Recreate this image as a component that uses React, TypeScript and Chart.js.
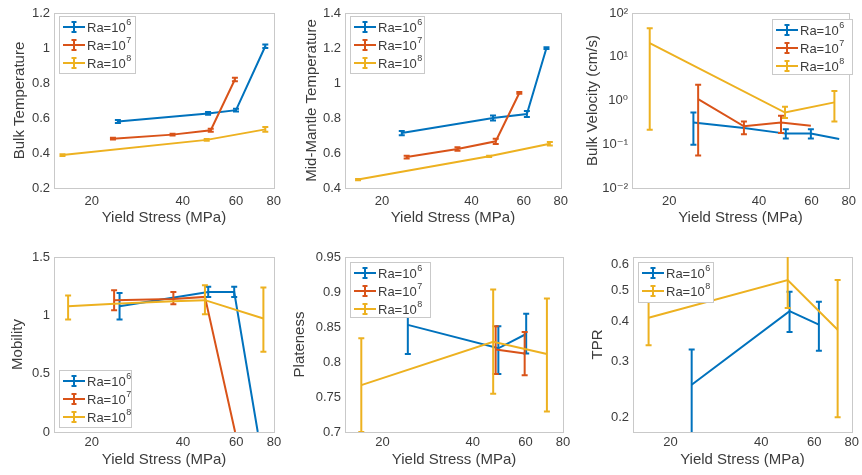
import React, { useEffect, useRef } from "react";
import { Chart, registerables } from "chart.js";
Chart.register(...registerables);

type Pt = [number, number, number | null, number | null]; // x, y, low, high

// ---------- shared axis data ----------
const xTicks = [20, 40, 60, 80];
const xLabel = "Yield Stress (MPa)";
const legendBase = "Ra=10";

// ---------- Bulk Temperature ----------
const bulkTempTicks = [0.2, 0.4, 0.6, 0.8, 1, 1.2];
const bulkTempRa6: Pt[] = [[24.4, 0.58, 0.572, 0.588], [48.5, 0.626, 0.618, 0.634], [60, 0.645, 0.637, 0.653], [75, 1.01, 1.0, 1.02]];
const bulkTempRa7: Pt[] = [[23.5, 0.482, 0.477, 0.487], [37, 0.505, 0.5, 0.51], [49.5, 0.53, 0.522, 0.538], [59.5, 0.82, 0.81, 0.83]];
const bulkTempRa8: Pt[] = [[16, 0.388, 0.383, 0.393], [48, 0.475, 0.47, 0.48], [75, 0.535, 0.522, 0.548]];

// ---------- Mid-Mantle Temperature ----------
const midTempTicks = [0.4, 0.6, 0.8, 1, 1.2, 1.4];
const midTempRa6: Pt[] = [[23.3, 0.714, 0.702, 0.726], [47.3, 0.8, 0.786, 0.814], [61.5, 0.823, 0.806, 0.84], [71.6, 1.2, 1.195, 1.205]];
const midTempRa7: Pt[] = [[24.2, 0.577, 0.569, 0.585], [35.9, 0.623, 0.613, 0.633], [48.3, 0.667, 0.652, 0.682], [58, 0.943, 0.938, 0.948]];
const midTempRa8: Pt[] = [[16.6, 0.448, 0.444, 0.452], [45.9, 0.581, 0.577, 0.585], [73.5, 0.653, 0.643, 0.663]];

// ---------- Bulk Velocity ----------
const velTicks = [0.01, 0.1, 1, 10, 100];
const velTickLabels = ["10\u207B\u00B2", "10\u207B\u00B9", "10\u2070", "10\u00B9", "10\u00B2"];
const velRa6: Pt[] = [[24.1, 0.316, 0.098, 0.53], [35.6, 0.235, null, null], [49.2, 0.175, 0.135, 0.22], [59.7, 0.175, 0.135, 0.22], [74.3, 0.132, null, null]];
const velRa7: Pt[] = [[25, 1.08, 0.055, 2.3], [35.6, 0.257, 0.17, 0.33], [47.4, 0.316, 0.18, 0.45], [59.7, 0.265, null, null]];
const velRa8: Pt[] = [[17.2, 20.6, 0.215, 45], [48.9, 0.53, 0.4, 0.72], [71.6, 0.906, 0.333, 1.65]];

// ---------- Mobility ----------
const mobTicks = [0, 0.5, 1, 1.5];
const mobRa6: Pt[] = [[24.7, 1.078, 0.965, 1.192], [48.5, 1.2, 1.158, 1.244], [59.1, 1.2, 1.158, 1.244], [70.7, 0, null, null]];
const mobRa7: Pt[] = [[23.7, 1.13, 1.044, 1.215], [37.2, 1.14, 1.096, 1.2], [47.3, 1.158, null, null], [59.5, 0, null, null]];
const mobRa8: Pt[] = [[16.7, 1.078, 0.965, 1.17], [23.8, 1.1, null, null], [37.2, 1.12, null, null], [47.3, 1.13, 1.01, 1.258], [73.8, 0.973, 0.688, 1.238]];

// ---------- Plateness ----------
const plateTicks = [0.7, 0.75, 0.8, 0.85, 0.9, 0.95];
const plateRa6: Pt[] = [[24.3, 0.853, 0.8115, 0.895], [48.7, 0.8196, 0.783, 0.851], [60.3, 0.84, 0.812, 0.869]];
const plateRa7: Pt[] = [[47.7, 0.818, 0.783, 0.851], [59.6, 0.812, 0.781, 0.843]];
const plateRa8: Pt[] = [[17, 0.767, 0.7, 0.834], [46.8, 0.829, 0.7545, 0.9036], [70.7, 0.8115, 0.7293, 0.8908]];

// ---------- TPR ----------
const tprTicks = [0.2, 0.3, 0.4, 0.5, 0.6];
const tprRa6: Pt[] = [[23.5, 0.253, 0.178, 0.326], [49.7, 0.43, 0.37, 0.494], [62.2, 0.39, 0.323, 0.46]];
const tprRa8: Pt[] = [[16.9, 0.41, 0.336, 0.49], [49, 0.538, 0.44, 0.65], [71.8, 0.376, 0.2, 0.538]];

// ---------- styles ----------
const BLUE = "#0072BD";
const ORANGE = "#D95319";
const YELLOW = "#EDB120";
const TXT = "#3c3c3c";
const FRAME = "#c9c9c9";
const FONT = "'Liberation Sans', Arial, 'DejaVu Sans', sans-serif";
const TICK_SIZE = 13;
const TITLE_SIZE = 15;

type Series = { pts: Pt[]; color: string; order: number; exp: string };
type Spec = {
  canvas: [number, number, number, number];
  box: [number, number, number, number];
  tcx: number;
  xTickPad: number;
  xH: number;
  yTitle: string;
  yType: "linear" | "logarithmic";
  yMin: number;
  yMax: number;
  yTicks: number[];
  yLabels?: string[];
  series: Series[];
  legend: [number, number, number, number];
};

const ra6 = (pts: Pt[]): Series => ({ pts, color: BLUE, order: 3, exp: "6" });
const ra7 = (pts: Pt[]): Series => ({ pts, color: ORANGE, order: 2, exp: "7" });
const ra8 = (pts: Pt[]): Series => ({ pts, color: YELLOW, order: 1, exp: "8" });

const specs: Spec[] = [
  {
    canvas: [0, 0, 287, 237], box: [54, 13, 274, 188], tcx: 20, xTickPad: 6, xH: 39,
    yTitle: "Bulk Temperature", yType: "linear", yMin: 0.2, yMax: 1.2, yTicks: bulkTempTicks,
    series: [ra6(bulkTempRa6), ra7(bulkTempRa7), ra8(bulkTempRa8)], legend: [59, 16, 76, 57],
  },
  {
    canvas: [287, 0, 287, 237], box: [345, 13, 561, 188], tcx: 312, xTickPad: 6, xH: 39,
    yTitle: "Mid-Mantle Temperature", yType: "linear", yMin: 0.4, yMax: 1.4, yTicks: midTempTicks,
    series: [ra6(midTempRa6), ra7(midTempRa7), ra8(midTempRa8)], legend: [350, 16, 74, 57],
  },
  {
    canvas: [574, 0, 288, 237], box: [632, 13, 853, 188], tcx: 593, xTickPad: 6, xH: 39,
    yTitle: "Bulk Velocity (cm/s)", yType: "logarithmic", yMin: 0.01, yMax: 100, yTicks: velTicks, yLabels: velTickLabels,
    series: [ra6(velRa6), ra7(velRa7), ra8(velRa8)], legend: [772, 19, 80, 55],
  },
  {
    canvas: [0, 237, 287, 238], box: [54, 257, 274, 432], tcx: 18, xTickPad: 3, xH: 37,
    yTitle: "Mobility", yType: "linear", yMin: 0, yMax: 1.5, yTicks: mobTicks,
    series: [ra6(mobRa6), ra7(mobRa7), ra8(mobRa8)], legend: [59, 370, 72, 57],
  },
  {
    canvas: [287, 237, 287, 238], box: [345, 257, 563, 432], tcx: 300, xTickPad: 3, xH: 37,
    yTitle: "Plateness", yType: "linear", yMin: 0.7, yMax: 0.95, yTicks: plateTicks,
    series: [ra6(plateRa6), ra7(plateRa7), ra8(plateRa8)], legend: [350, 262, 80, 55],
  },
  {
    canvas: [574, 237, 288, 238], box: [633, 257, 853, 432], tcx: 598, xTickPad: 3, xH: 37,
    yTitle: "TPR", yType: "logarithmic", yMin: 0.18, yMax: 0.635, yTicks: tprTicks,
    series: [ra6(tprRa6), ra8(tprRa8)], legend: [638, 262, 75, 40],
  },
];

const fmt = (v: number) => String(+Number(v).toFixed(3));

const framePlugin = {
  id: "frame",
  beforeDatasetsDraw(chart: any) {
    const { ctx, chartArea: a } = chart;
    ctx.save();
    ctx.strokeStyle = FRAME;
    ctx.lineWidth = 1;
    ctx.strokeRect(Math.round(a.left) + 0.5, Math.round(a.top) + 0.5, Math.round(a.right - a.left), Math.round(a.bottom - a.top));
    ctx.restore();
  },
};

const errorBarPlugin = {
  id: "errbars",
  afterDatasetDraw(chart: any, args: any) {
    const ds = chart.data.datasets[args.index];
    const xs = chart.scales.x;
    const ys = chart.scales.y;
    const a = chart.chartArea;
    const ctx = chart.ctx;
    ctx.save();
    ctx.beginPath();
    ctx.rect(a.left, a.top, a.right - a.left, a.bottom - a.top);
    ctx.clip();
    ctx.strokeStyle = ds.borderColor;
    ctx.lineWidth = 2;
    ds.data.forEach((d: any) => {
      if (d.lo == null || d.hi == null) return;
      const px = xs.getPixelForValue(d.x);
      const p1 = ys.getPixelForValue(d.lo);
      const p2 = ys.getPixelForValue(d.hi);
      ctx.beginPath();
      ctx.moveTo(px, p1);
      ctx.lineTo(px, p2);
      ctx.moveTo(px - 3, p1);
      ctx.lineTo(px + 3, p1);
      ctx.moveTo(px - 3, p2);
      ctx.lineTo(px + 3, p2);
      ctx.stroke();
    });
    ctx.restore();
  },
};

function legendPlugin(p: Spec) {
  return {
    id: "inlegend",
    afterDraw(chart: any) {
      const ctx = chart.ctx;
      const [lx, ly, lw, lh] = p.legend;
      const x0 = lx - p.canvas[0];
      const y0 = ly - p.canvas[1];
      ctx.save();
      ctx.fillStyle = "#ffffff";
      ctx.fillRect(x0, y0, lw, lh);
      ctx.strokeStyle = FRAME;
      ctx.lineWidth = 1;
      ctx.strokeRect(x0 + 0.5, y0 + 0.5, lw, lh);
      p.series.forEach((s, i) => {
        const yy = y0 + 11 + i * 18;
        ctx.strokeStyle = s.color;
        ctx.lineWidth = 2;
        ctx.beginPath();
        ctx.moveTo(x0 + 4, yy);
        ctx.lineTo(x0 + 26, yy);
        ctx.moveTo(x0 + 15, yy - 5);
        ctx.lineTo(x0 + 15, yy + 5);
        ctx.moveTo(x0 + 12.5, yy - 5);
        ctx.lineTo(x0 + 17.5, yy - 5);
        ctx.moveTo(x0 + 12.5, yy + 5);
        ctx.lineTo(x0 + 17.5, yy + 5);
        ctx.stroke();
        ctx.fillStyle = TXT;
        ctx.textAlign = "left";
        ctx.textBaseline = "middle";
        ctx.font = `13px ${FONT}`;
        ctx.fillText(legendBase, x0 + 28, yy + 1);
        const w = ctx.measureText(legendBase).width;
        ctx.font = `9px ${FONT}`;
        ctx.fillText(s.exp, x0 + 28 + w + 0.5, yy - 4);
      });
      ctx.restore();
    },
  };
}

function buildConfig(p: Spec): any {
  const [cx, cy, cw, ch] = p.canvas;
  const [L, T, R, B] = p.box;
  const half = (TITLE_SIZE * 1.2) / 2;
  const scaleLeft = p.tcx - half - cx;
  const yW = L - cx - scaleLeft;
  const padding = { left: scaleLeft, top: T - cy, right: cx + cw - R, bottom: cy + ch - B - p.xH };

  const datasets = p.series.map((s) => ({
    label: legendBase + s.exp,
    data: s.pts.map((q) => ({ x: q[0], y: q[1], lo: q[2], hi: q[3] })),
    borderColor: s.color,
    backgroundColor: s.color,
    borderWidth: 2,
    pointRadius: 0,
    pointHoverRadius: 0,
    tension: 0,
    fill: false,
    order: s.order,
  }));

  return {
    type: "line",
    data: { datasets },
    options: {
      responsive: false,
      animation: false,
      events: [],
      parsing: true,
      layout: { padding, autoPadding: false },
      plugins: { legend: { display: false }, tooltip: { enabled: false } },
      scales: {
        x: {
          type: "logarithmic",
          min: 15,
          max: 80,
          afterBuildTicks: (s: any) => {
            s.ticks = xTicks.map((v) => ({ value: v }));
          },
          afterFit: (s: any) => {
            s.height = p.xH;
          },
          ticks: {
            autoSkip: false,
            maxRotation: 0,
            padding: p.xTickPad,
            color: TXT,
            font: { family: FONT, size: TICK_SIZE },
            callback: (v: any) => String(v),
          },
          grid: { display: false, drawTicks: false },
          border: { display: false },
          title: { display: true, text: xLabel, color: TXT, font: { family: FONT, size: TITLE_SIZE }, padding: 0 },
        },
        y: {
          type: p.yType,
          min: p.yMin,
          max: p.yMax,
          afterBuildTicks: (s: any) => {
            s.ticks = p.yTicks.map((v) => ({ value: v }));
          },
          afterFit: (s: any) => {
            s.width = yW;
          },
          ticks: {
            autoSkip: false,
            padding: 4,
            color: TXT,
            font: { family: FONT, size: TICK_SIZE },
            callback: (v: any, i: number) => (p.yLabels ? p.yLabels[i] : fmt(v)),
          },
          grid: { display: false, drawTicks: false },
          border: { display: false },
          title: { display: true, text: p.yTitle, color: TXT, font: { family: FONT, size: TITLE_SIZE }, padding: 0 },
        },
      },
    },
    plugins: [framePlugin, errorBarPlugin, legendPlugin(p)],
  };
}

function Panel({ spec }: { spec: Spec }) {
  const ref = useRef<HTMLCanvasElement>(null);
  useEffect(() => {
    const chart = new Chart(ref.current as HTMLCanvasElement, buildConfig(spec));
    return () => chart.destroy();
  }, [spec]);
  const [cx, cy, cw, ch] = spec.canvas;
  return (
    <canvas
      ref={ref}
      width={cw}
      height={ch}
      style={{ position: "absolute", left: cx, top: cy, width: cw, height: ch }}
    />
  );
}

export default function App() {
  return (
    <div style={{ position: "absolute", left: 0, top: 0, width: 862, height: 475, background: "#fff", overflow: "hidden" }}>
      {specs.map((s, i) => (
        <Panel key={i} spec={s} />
      ))}
    </div>
  );
}
